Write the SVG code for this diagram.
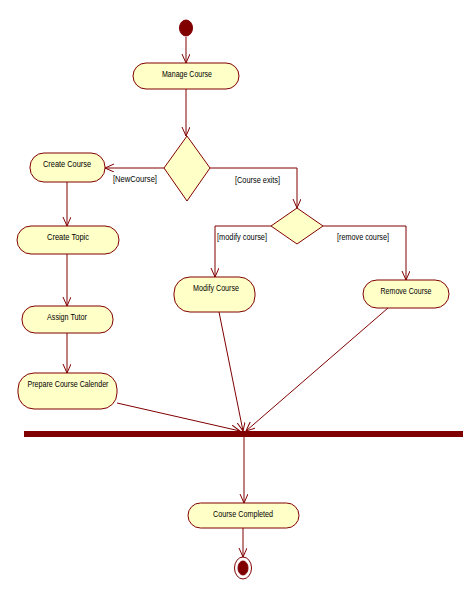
<svg xmlns="http://www.w3.org/2000/svg" width="465" height="590" viewBox="0 0 465 590">
<defs>
<style>
.node{fill:#FFFFC8;stroke:#800000;stroke-width:1}
.lbl{font-family:"Liberation Sans",Arial,sans-serif;font-size:9.5px;fill:#000000}
.c{text-anchor:middle}
.edge{fill:none;stroke:#800000;stroke-width:1}
.dot{fill:#800000;stroke:#800000}
</style>
<marker id="arr" markerUnits="userSpaceOnUse" markerWidth="12" markerHeight="12" refX="9" refY="4" orient="auto">
<path d="M0,0 L9,4 L0,8" fill="none" stroke="#800000" stroke-width="1"/>
</marker>
</defs>
<rect width="465" height="590" fill="#fff"/>
<g id="connectors">
<path class="edge" d="M186,37 L186,63" marker-end="url(#arr)"/>
<path class="edge" d="M186,89 L186,136" marker-end="url(#arr)"/>
<path class="edge" d="M164,168 L105,168" marker-end="url(#arr)"/>
<path class="edge" d="M210,168 L297,168 L297,208" marker-end="url(#arr)"/>
<path class="edge" d="M271,226 L215,226 L215,277" marker-end="url(#arr)"/>
<path class="edge" d="M323,226 L406,226 L406,280" marker-end="url(#arr)"/>
<path class="edge" d="M67,182 L67,226" marker-end="url(#arr)"/>
<path class="edge" d="M67,254 L67,306" marker-end="url(#arr)"/>
<path class="edge" d="M67,333 L67,373" marker-end="url(#arr)"/>
<path class="edge" d="M117,403 L240,431" marker-end="url(#arr)"/>
<path class="edge" d="M219,312 L243,431" marker-end="url(#arr)"/>
<path class="edge" d="M388,308 L246,431" marker-end="url(#arr)"/>
<path class="edge" d="M244,437 L244,503" marker-end="url(#arr)"/>
<path class="edge" d="M243,528 L243,557" marker-end="url(#arr)"/>
<text class="lbl" fill="#000" x="113" y="182" textLength="44" lengthAdjust="spacingAndGlyphs">[NewCourse]</text>
<text class="lbl" fill="#000" x="235" y="183" textLength="45" lengthAdjust="spacingAndGlyphs">[Course exits]</text>
<text class="lbl" fill="#000" x="217" y="240" textLength="50" lengthAdjust="spacingAndGlyphs">[modify course]</text>
<text class="lbl" fill="#000" x="337" y="240" textLength="52" lengthAdjust="spacingAndGlyphs">[remove course]</text>
</g>
<g id="start"><ellipse class="dot" cx="186" cy="28" rx="6.5" ry="8"/></g>
<g id="manage-course">
<rect class="node" x="133" y="63" width="106" height="26" rx="13" ry="13"/>
<text class="lbl c" x="187" y="77" textLength="50" lengthAdjust="spacingAndGlyphs">Manage Course</text>
</g>
<g id="decision1"><polygon class="node" points="187,136 210,168 187,201 164,168"/></g>
<g id="create-course">
<rect class="node" x="30" y="153" width="75" height="29" rx="14" ry="14"/>
<text class="lbl c" x="67" y="167" textLength="48" lengthAdjust="spacingAndGlyphs">Create Course</text>
</g>
<g id="decision2"><polygon class="node" points="297,208 323,226 297,244 271,226"/></g>
<g id="create-topic">
<rect class="node" x="17" y="226" width="102" height="28" rx="14" ry="14"/>
<text class="lbl c" x="68" y="240" textLength="42" lengthAdjust="spacingAndGlyphs">Create Topic</text>
</g>
<g id="assign-tutor">
<rect class="node" x="22" y="306" width="91" height="27" rx="13" ry="13"/>
<text class="lbl c" x="67" y="320" textLength="40" lengthAdjust="spacingAndGlyphs">Assign Tutor</text>
</g>
<g id="prepare-calender">
<rect class="node" x="18" y="373" width="99" height="36" rx="16" ry="16"/>
<text class="lbl c" x="68" y="387" textLength="81" lengthAdjust="spacingAndGlyphs">Prepare Course Calender</text>
</g>
<g id="modify-course">
<rect class="node" x="174" y="277" width="81" height="35" rx="16" ry="16"/>
<text class="lbl c" x="216" y="291" textLength="46" lengthAdjust="spacingAndGlyphs">Modify Course</text>
</g>
<g id="remove-course">
<rect class="node" x="363" y="280" width="86" height="28" rx="14" ry="14"/>
<text class="lbl c" x="406" y="294" textLength="51" lengthAdjust="spacingAndGlyphs">Remove Course</text>
</g>
<g id="join-bar"><rect x="24" y="431" width="439" height="6" fill="#800000"/></g>
<g id="course-completed">
<rect class="node" x="188" y="503" width="111" height="25" rx="12.5" ry="12.5"/>
<text class="lbl c" x="243" y="517" textLength="60" lengthAdjust="spacingAndGlyphs">Course Completed</text>
</g>
<g id="end">
<ellipse cx="243" cy="568" rx="8.5" ry="11" fill="#fff" stroke="#800000" stroke-width="1"/>
<ellipse class="dot" cx="243" cy="568" rx="5" ry="7"/>
</g>
</svg>
